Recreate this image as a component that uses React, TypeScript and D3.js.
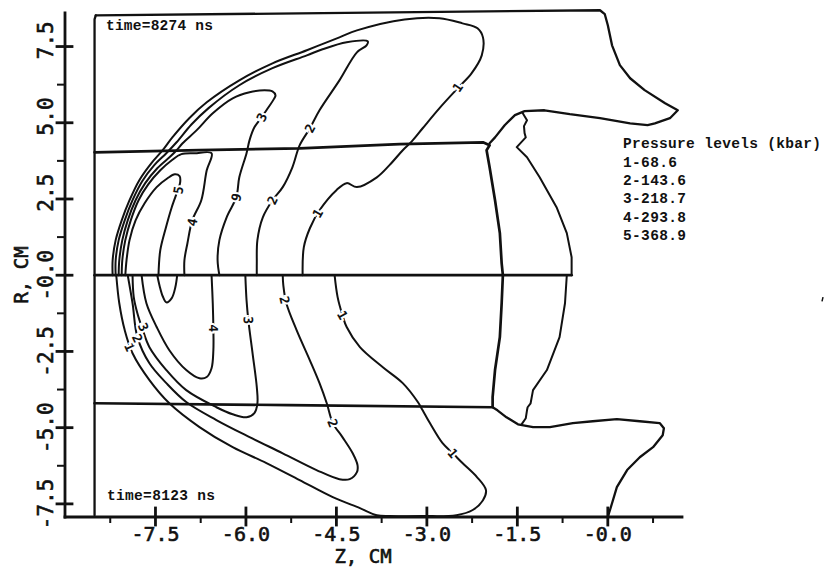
import React from 'react'
import * as d3 from 'd3'

type Pt = [number, number]

// axis extents, Z and R in cm
const zExtent: Pt = [-9.0, 1.23]
const rExtent: Pt = [-7.93, 8.6]
const zMajor = [-7.5, -6.0, -4.5, -3.0, -1.5, 0]
const zMinor = [-8.25, -6.75, -5.25, -3.75, -2.25, -0.75, 0.75]
const rMajor = [-7.5, -5.0, -2.5, 0, 2.5, 5.0, 7.5]
const rMinor = [-6.25, -3.75, -1.25, 1.25, 3.75, 6.25]

const levels = ['1-68.6', '2-143.6', '3-218.7', '4-293.8', '5-368.9']

// material boundaries
const wall: Pt[] = [[-8.51, -7.87], [-8.51, 8.39], [-8.49, 8.52]]
const outlineUp: Pt[] = [
  [-8.49, 8.52], [-5.11, 8.59], [-0.13, 8.69], [-0.05, 8.56], [0.0, 8.2], [0.07, 7.54],
  [0.2, 6.89], [0.37, 6.46], [0.61, 6.07], [0.95, 5.64], [1.16, 5.41], [1.03, 5.15],
  [0.78, 4.98], [0.66, 4.92], [0.37, 4.98], [-0.13, 5.15], [-0.63, 5.28], [-1.05, 5.41],
  [-1.38, 5.38], [-1.54, 5.25], [-1.71, 4.92], [-1.87, 4.52], [-1.96, 4.33]
]
const linerUp: Pt[] = [
  [-8.51, 4.03], [-6.77, 4.1], [-5.11, 4.16], [-3.45, 4.3], [-2.07, 4.36], [-1.96, 4.26],
  [-2.01, 4.1], [-1.96, 3.54], [-1.87, 2.46], [-1.79, 1.38], [-1.76, 0.39], [-1.74, 0]
]
const noseUp: Pt[] = [
  [-1.41, 5.31], [-1.34, 5.08], [-1.39, 4.89], [-1.38, 4.66], [-1.36, 4.52], [-1.51, 4.2],
  [-1.34, 3.87], [-1.13, 3.21], [-0.85, 2.23], [-0.68, 1.38], [-0.6, 0.59], [-0.6, 0]
]
const axisLine: Pt[] = [[-8.51, 0], [-0.6, 0]]
const linerDown: Pt[] = [
  [-8.51, -4.2], [-5.28, -4.26], [-1.91, -4.33], [-1.91, -4.0], [-1.87, -3.11],
  [-1.79, -2.03], [-1.76, -0.92], [-1.74, 0]
]
const outlineDown: Pt[] = [
  [-1.91, -4.33], [-1.83, -4.43], [-1.68, -4.66], [-1.49, -4.89], [-1.24, -4.98],
  [-0.96, -4.98], [-0.58, -4.85], [-0.25, -4.79], [0.15, -4.72], [0.53, -4.79],
  [0.86, -4.85], [0.93, -5.02], [0.91, -5.25], [0.75, -5.64], [0.53, -5.97],
  [0.32, -6.39], [0.15, -6.95], [0.07, -7.48], [0.0, -7.93]
]
const noseDown: Pt[] = [
  [-0.68, 0], [-0.71, -0.92], [-0.8, -2.03], [-1.01, -3.11], [-1.24, -3.77], [-1.28, -4.2],
  [-1.33, -4.33], [-1.34, -4.43], [-1.36, -4.69], [-1.43, -4.89]
]

// pressure contours, time=8274 ns (upper half)
const c1Up: Pt[] = [
  [-8.21, 0], [-8.21, 0.49], [-8.16, 1.15], [-8.06, 1.8], [-7.93, 2.46], [-7.77, 3.11],
  [-7.57, 3.67], [-7.38, 4.1], [-7.22, 4.52], [-6.94, 5.15], [-6.65, 5.67], [-6.11, 6.39],
  [-5.56, 6.95], [-4.99, 7.38], [-4.45, 7.8], [-4.16, 8.03], [-3.37, 8.39], [-2.79, 8.43],
  [-2.41, 8.26], [-2.16, 8.1], [-2.07, 7.8], [-2.09, 7.21], [-2.26, 6.62], [-2.49, 6.13],
  [-2.79, 5.48], [-3.07, 4.82], [-3.25, 4.39], [-3.4, 4.1], [-3.62, 3.61], [-3.83, 3.21],
  [-4.16, 2.89], [-4.33, 3.02], [-4.5, 2.79], [-4.78, 2.13], [-4.94, 1.54], [-5.04, 0.92],
  [-5.06, 0]
]
const c2Up: Pt[] = [
  [-8.16, 0], [-8.16, 0.49], [-8.11, 1.15], [-8.01, 1.8], [-7.88, 2.46], [-7.72, 3.08],
  [-7.52, 3.61], [-7.32, 4.0], [-7.15, 4.36], [-6.9, 4.95], [-6.62, 5.48], [-6.11, 6.23],
  [-5.56, 6.79], [-4.99, 7.21], [-4.73, 7.41], [-4.33, 7.64], [-3.98, 7.67], [-4.0, 7.54],
  [-4.16, 7.31], [-4.45, 6.39], [-4.78, 5.41], [-4.94, 4.82], [-5.11, 4.26], [-5.23, 3.54],
  [-5.39, 2.89], [-5.56, 2.46], [-5.72, 1.9], [-5.81, 1.15], [-5.82, 0.39], [-5.82, 0]
]
const c3Up: Pt[] = [
  [-8.11, 0], [-8.1, 0.49], [-8.05, 1.15], [-7.96, 1.8], [-7.83, 2.46], [-7.67, 3.02],
  [-7.47, 3.51], [-7.25, 3.9], [-7.15, 4.1], [-7.05, 4.33], [-6.82, 4.75], [-6.55, 5.31],
  [-6.22, 5.8], [-5.94, 6.0], [-5.69, 6.07], [-5.56, 6.03], [-5.51, 5.9], [-5.53, 5.8],
  [-5.66, 5.41], [-5.74, 5.18], [-5.86, 4.85], [-5.94, 4.43], [-5.99, 4.0], [-6.11, 3.21],
  [-6.16, 2.56], [-6.32, 1.9], [-6.44, 1.15], [-6.47, 0.49], [-6.44, 0]
]
const c4Up: Pt[] = [
  [-8.06, 0], [-8.05, 0.49], [-8.0, 1.15], [-7.91, 1.8], [-7.78, 2.46], [-7.62, 2.98],
  [-7.42, 3.44], [-7.23, 3.77], [-7.07, 3.97], [-6.85, 4.0], [-6.57, 4.0], [-6.65, 3.44],
  [-6.74, 2.46], [-6.89, 1.8], [-6.97, 1.05], [-7.02, 0.49], [-7.02, 0]
]
const c5Up: Pt[] = [
  [-8.0, 0], [-7.98, 0.49], [-7.93, 1.15], [-7.83, 1.8], [-7.68, 2.36], [-7.48, 2.89],
  [-7.3, 3.18], [-7.18, 3.31], [-7.1, 3.25], [-7.09, 3.05], [-7.13, 2.79], [-7.23, 2.23],
  [-7.33, 1.54], [-7.42, 0.82], [-7.45, 0]
]

// pressure contours, time=8123 ns (lower half)
const c1Down: Pt[] = [
  [-8.15, 0], [-8.1, -0.92], [-8.01, -1.8], [-7.88, -2.56], [-7.6, -3.44], [-7.27, -4.2],
  [-6.77, -4.98], [-6.22, -5.64], [-5.66, -6.16], [-5.11, -6.72], [-4.56, -7.28],
  [-4.11, -7.64], [-3.83, -7.87], [-3.62, -7.9], [-3.07, -7.9], [-2.51, -7.87],
  [-2.24, -7.7], [-2.07, -7.38], [-2.02, -7.05], [-2.17, -6.62], [-2.41, -6.16],
  [-2.57, -5.84], [-2.74, -5.51], [-2.95, -4.85], [-3.07, -4.43], [-3.15, -4.16],
  [-3.4, -3.54], [-3.73, -3.02], [-4.11, -2.36], [-4.33, -1.7], [-4.4, -1.31],
  [-4.48, -0.72], [-4.53, 0]
]
const c2Down: Pt[] = [
  [-7.96, 0], [-7.88, -0.92], [-7.8, -2.03], [-7.6, -2.89], [-7.32, -3.54], [-6.99, -4.16],
  [-6.49, -4.75], [-5.94, -5.31], [-5.39, -5.84], [-4.83, -6.39], [-4.45, -6.69],
  [-4.28, -6.69], [-4.16, -6.46], [-4.15, -6.23], [-4.23, -5.84], [-4.4, -5.31],
  [-4.56, -4.85], [-4.66, -4.2], [-4.78, -3.54], [-4.94, -2.79], [-5.16, -1.8],
  [-5.33, -0.92], [-5.38, -0.33], [-5.39, 0]
]
const c3Down: Pt[] = [
  [-7.88, 0], [-7.86, -0.72], [-7.8, -1.25], [-7.72, -1.74], [-7.6, -2.36], [-7.32, -3.11],
  [-6.99, -3.77], [-6.49, -4.33], [-6.22, -4.56], [-5.99, -4.66], [-5.86, -4.52],
  [-5.81, -4.2], [-5.82, -3.67], [-5.89, -2.56], [-5.96, -1.48], [-5.99, -0.82], [-6.01, 0]
]
const c4Down: Pt[] = [
  [-7.73, 0], [-7.65, -0.92], [-7.48, -1.7], [-7.27, -2.46], [-6.99, -3.11], [-6.77, -3.38],
  [-6.65, -3.34], [-6.57, -3.05], [-6.54, -2.46], [-6.54, -1.74], [-6.55, -0.92], [-6.57, 0]
]
const c5Down: Pt[] = [
  [-7.47, 0], [-7.43, -0.36], [-7.38, -0.69], [-7.32, -0.89], [-7.23, -0.75], [-7.17, -0.39],
  [-7.14, 0]
]

// contour labels: text, z, r, angle
const labels: [string, number, number, number][] = [
  ['1', -2.49, 6.16, -55], ['1', -4.81, 2.03, -60], ['2', -4.94, 4.82, -62],
  ['2', -5.56, 2.46, -65], ['3', -5.74, 5.18, -65], ['9', -6.16, 2.56, -75],
  ['4', -6.89, 1.74, -78], ['5', -7.12, 2.79, -80],
  ['1', -4.4, -1.31, 60], ['1', -2.57, -5.84, 50], ['2', -5.36, -0.82, 78],
  ['2', -4.56, -4.85, 68], ['3', -5.96, -1.48, 88], ['4', -6.54, -1.74, 90],
  ['1', -7.93, -2.36, 65], ['2', -7.8, -2.07, 65], ['3', -7.7, -1.7, 65]
]

const fmt = (v: number) => (v <= 0 ? '-' + Math.abs(v).toFixed(1) : '\u00a0' + v.toFixed(1))

export default function App() {
  const width = 825
  const height = 567
  const x = d3.scaleLinear().domain(zExtent).range([65, 682])
  const y = d3.scaleLinear().domain(rExtent).range([517, 13])
  const x0 = x(zExtent[0])
  const y0 = y(rExtent[0])

  const smooth = d3.line<Pt>().x(d => x(d[0])).y(d => y(d[1])).curve(d3.curveCatmullRom.alpha(0.5))
  const poly = d3.line<Pt>().x(d => x(d[0])).y(d => y(d[1]))

  const contours = [c1Up, c2Up, c3Up, c4Up, c5Up, c1Down, c2Down, c3Down, c4Down, c5Down]
  const bounds = [wall, outlineUp, outlineDown]
  const heavy = [linerUp, axisLine, linerDown]
  const jagged = [noseUp, noseDown]
  const plotter = '"DejaVu Sans Mono", monospace'
  const typed = '"Liberation Mono", "DejaVu Sans Mono", monospace'

  return (
    <svg width={width} height={height} style={{position: 'absolute', left: 0, top: 0, background: '#fff'}}>
      <g fill="none" stroke="#111" strokeLinejoin="round" strokeLinecap="round">
        {contours.map((c, i) => (
          <path key={'c' + i} d={smooth(c) || ''} strokeWidth={2} />
        ))}
        {bounds.map((b, i) => (
          <path key={'b' + i} d={poly(b) || ''} strokeWidth={2.3} />
        ))}
        {heavy.map((b, i) => (
          <path key={'h' + i} d={poly(b) || ''} strokeWidth={2.7} />
        ))}
        {jagged.map((b, i) => (
          <path key={'j' + i} d={poly(b) || ''} strokeWidth={2} />
        ))}
      </g>

      {labels.map(([t, z, r, a], i) => (
        <text
          key={'l' + i}
          transform={`translate(${x(z)},${y(r)}) rotate(${a})`}
          textAnchor="middle"
          dy="0.36em"
          fontFamily={plotter}
          fontSize={13}
          fontWeight="bold"
          fill="#111"
          stroke="#fff"
          strokeWidth={4}
          paintOrder="stroke"
        >
          {t}
        </text>
      ))}

      {/* axes */}
      <g stroke="#111" strokeWidth={2.8} strokeLinecap="square">
        <line x1={x0} x2={x0} y1={y(rExtent[1])} y2={y0} />
        <line x1={x0} x2={x(zExtent[1])} y1={y0} y2={y0} />
        {rMajor.map(v => (
          <line key={'ry' + v} x1={x0 - 8} x2={x0 + 7} y1={y(v)} y2={y(v)} />
        ))}
        {rMinor.map(v => (
          <line key={'rn' + v} x1={x0 - 7} x2={x0} y1={y(v)} y2={y(v)} strokeWidth={2} />
        ))}
        {zMajor.map(v => (
          <line key={'zy' + v} x1={x(v)} x2={x(v)} y1={y0 - 9} y2={y0 + 8} />
        ))}
        {zMinor.map(v => (
          <line key={'zn' + v} x1={x(v)} x2={x(v)} y1={y0} y2={y0 + 5} strokeWidth={2} />
        ))}
      </g>

      <g fontFamily={plotter} fill="#111" stroke="#111" strokeWidth={0.6}>
        {rMajor.map(v => (
          <text key={'rt' + v} transform={`translate(53,${y(v)}) rotate(-90)`} textAnchor="middle" fontSize={21}>
            {fmt(v)}
          </text>
        ))}
        {zMajor.map(v => (
          <text key={'zt' + v} x={x(v)} y={541} textAnchor="middle" fontSize={20}>
            {fmt(v)}
          </text>
        ))}
        <text transform="translate(28,275) rotate(-90)" textAnchor="middle" fontSize={19}>
          R, CM
        </text>
        <text x={363} y={563} textAnchor="middle" fontSize={19}>
          Z, CM
        </text>
      </g>

      <g fontFamily={typed} fontWeight="bold" fontSize={14.5} fill="#111">
        <text x={106} y={30} textLength={107}>time=8274 ns</text>
        <text x={107} y={500} textLength={108}>time=8123 ns</text>
        <text x={623} y={148} textLength={198}>Pressure levels (kbar)</text>
        {levels.map((t, i) => (
          <text key={t} x={623} y={166.6 + i * 18.4} textLength={t.length * 9}>
            {t}
          </text>
        ))}
      </g>
      <line x1={823} x2={822} y1={y(-0.72)} y2={y(-0.86)} stroke="#111" strokeWidth={1.5} />
    </svg>
  )
}
